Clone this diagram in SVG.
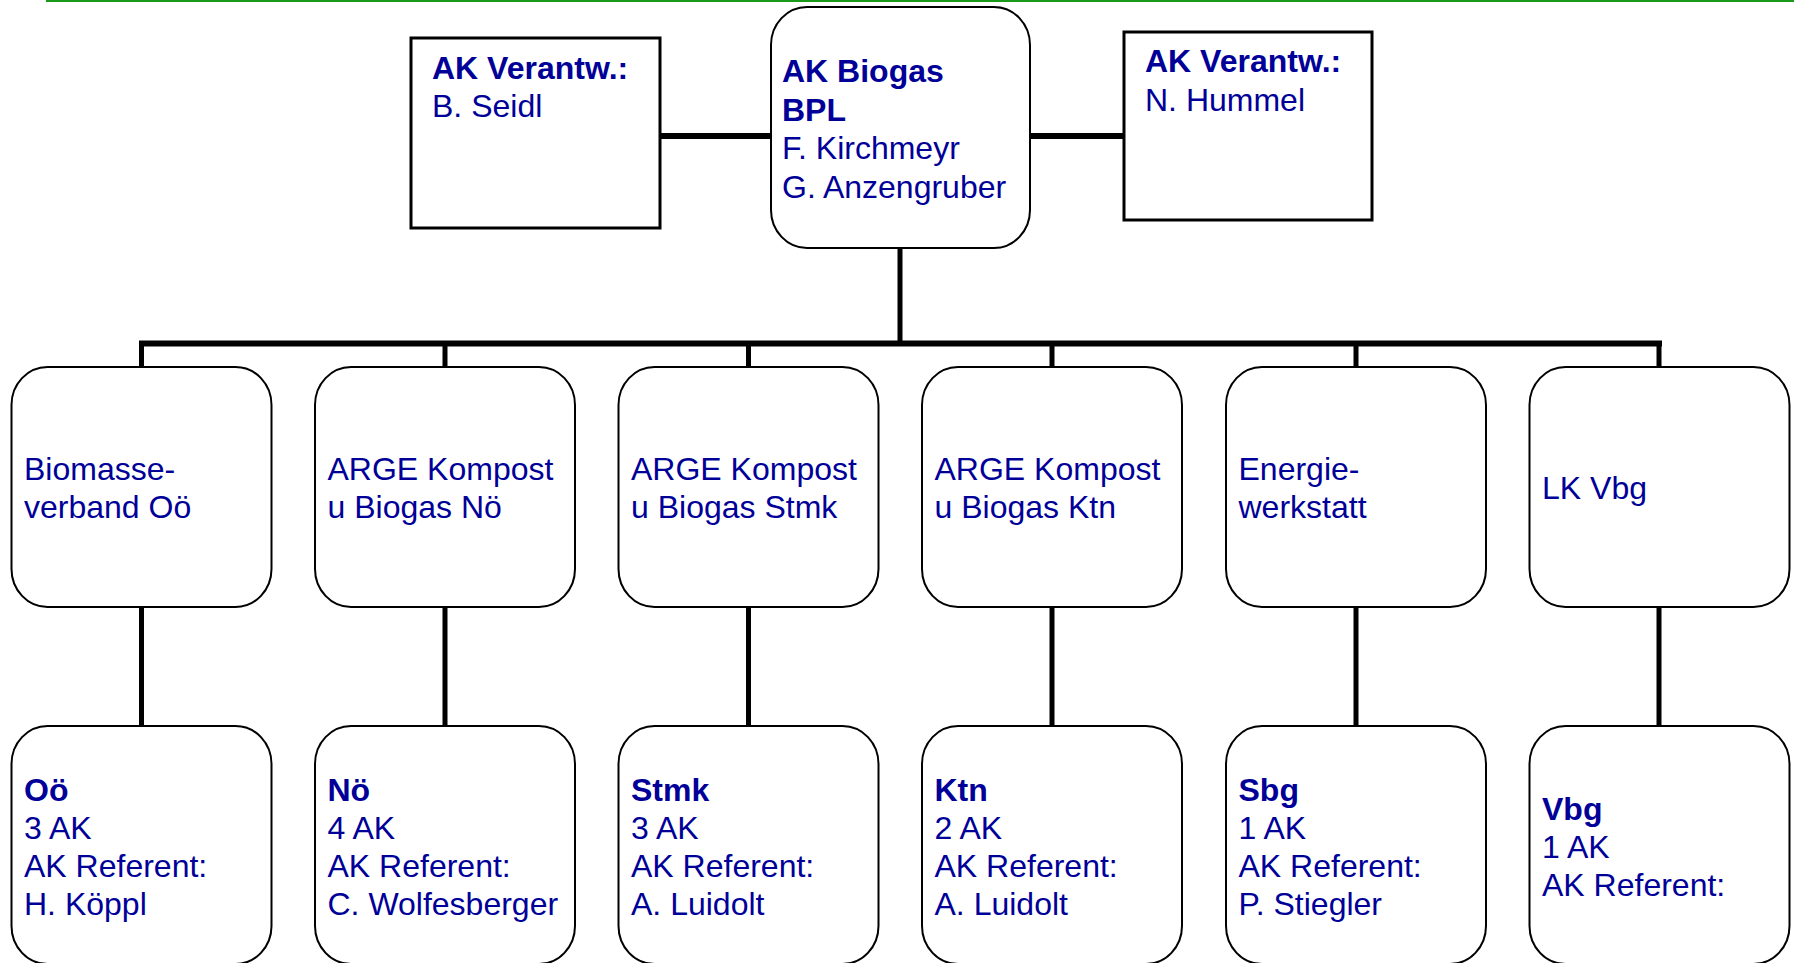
<svg xmlns="http://www.w3.org/2000/svg" width="1794" height="963" viewBox="0 0 1794 963">
<style>
  .box { fill: #ffffff; stroke: #000000; stroke-width: 2; }
  .sq { fill: #ffffff; stroke: #000000; stroke-width: 3; }
  .conn { fill: none; stroke: #000000; stroke-width: 5; }
  .thick { fill: none; stroke: #000000; stroke-width: 6; }
  text { font-family: "Liberation Sans", Arial, sans-serif; font-size: 32px; fill: #000099; }
  .b { font-weight: bold; }
</style>
<rect x="0" y="0" width="1794" height="963" fill="#ffffff"/>
<line x1="46" y1="1" x2="1794" y2="1" stroke="#1a9a1a" stroke-width="2"/>

<g id="connectors">
  <line class="thick" x1="660" y1="136" x2="771" y2="136"/>
  <line class="thick" x1="1030" y1="136" x2="1124" y2="136"/>
  <line class="conn" x1="900" y1="248" x2="900" y2="344"/>
  <path class="thick" d="M139 343.5 H1662"/>
  <path class="conn" d="M141.5 343 V367 M445 343 V367 M748.5 343 V367 M1052 343 V367 M1356 343 V367 M1659 343 V367"/>
  <path class="conn" d="M141.5 607 V726 M445 607 V726 M748.5 607 V726 M1052 607 V726 M1356 607 V726 M1659 607 V726"/>
</g>

<g id="verantw-left">
  <rect class="sq" x="411" y="38" width="249" height="190"/>
  <text x="432" y="79" class="b">AK Verantw.:</text>
  <text x="432" y="117">B. Seidl</text>
</g>

<g id="ak-biogas">
  <rect class="box" x="771" y="7" width="259" height="241" rx="36" ry="38"/>
  <text x="782" y="82" class="b">AK Biogas</text>
  <text x="782" y="120.5" class="b">BPL</text>
  <text x="782" y="159">F. Kirchmeyr</text>
  <text x="782" y="197.5">G. Anzengruber</text>
</g>

<g id="verantw-right">
  <rect class="sq" x="1124" y="32" width="248" height="188"/>
  <text x="1145" y="72" class="b">AK Verantw.:</text>
  <text x="1145" y="111">N. Hummel</text>
</g>

<g id="mid-1">
  <rect class="box" x="11.5" y="367" width="260" height="240" rx="36" ry="38"/>
  <text x="24" y="480">Biomasse-</text>
  <text x="24" y="518">verband Oö</text>
</g>
<g id="mid-2">
  <rect class="box" x="315" y="367" width="260" height="240" rx="36" ry="38"/>
  <text x="327.5" y="480">ARGE Kompost</text>
  <text x="327.5" y="518">u Biogas Nö</text>
</g>
<g id="mid-3">
  <rect class="box" x="618.5" y="367" width="260" height="240" rx="36" ry="38"/>
  <text x="631" y="480">ARGE Kompost</text>
  <text x="631" y="518">u Biogas Stmk</text>
</g>
<g id="mid-4">
  <rect class="box" x="922" y="367" width="260" height="240" rx="36" ry="38"/>
  <text x="934.5" y="480">ARGE Kompost</text>
  <text x="934.5" y="518">u Biogas Ktn</text>
</g>
<g id="mid-5">
  <rect class="box" x="1226" y="367" width="260" height="240" rx="36" ry="38"/>
  <text x="1238.5" y="480">Energie-</text>
  <text x="1238.5" y="518">werkstatt</text>
</g>
<g id="mid-6">
  <rect class="box" x="1529.5" y="367" width="260" height="240" rx="36" ry="38"/>
  <text x="1542" y="499">LK Vbg</text>
</g>

<g id="bot-1">
  <rect class="box" x="11.5" y="726" width="260" height="238" rx="36" ry="38"/>
  <text x="24" y="801" class="b">Oö</text>
  <text x="24" y="839">3 AK</text>
  <text x="24" y="877">AK Referent:</text>
  <text x="24" y="915">H. Köppl</text>
</g>
<g id="bot-2">
  <rect class="box" x="315" y="726" width="260" height="238" rx="36" ry="38"/>
  <text x="327.5" y="801" class="b">Nö</text>
  <text x="327.5" y="839">4 AK</text>
  <text x="327.5" y="877">AK Referent:</text>
  <text x="327.5" y="915">C. Wolfesberger</text>
</g>
<g id="bot-3">
  <rect class="box" x="618.5" y="726" width="260" height="238" rx="36" ry="38"/>
  <text x="631" y="801" class="b">Stmk</text>
  <text x="631" y="839">3 AK</text>
  <text x="631" y="877">AK Referent:</text>
  <text x="631" y="915">A. Luidolt</text>
</g>
<g id="bot-4">
  <rect class="box" x="922" y="726" width="260" height="238" rx="36" ry="38"/>
  <text x="934.5" y="801" class="b">Ktn</text>
  <text x="934.5" y="839">2 AK</text>
  <text x="934.5" y="877">AK Referent:</text>
  <text x="934.5" y="915">A. Luidolt</text>
</g>
<g id="bot-5">
  <rect class="box" x="1226" y="726" width="260" height="238" rx="36" ry="38"/>
  <text x="1238.5" y="801" class="b">Sbg</text>
  <text x="1238.5" y="839">1 AK</text>
  <text x="1238.5" y="877">AK Referent:</text>
  <text x="1238.5" y="915">P. Stiegler</text>
</g>
<g id="bot-6">
  <rect class="box" x="1529.5" y="726" width="260" height="238" rx="36" ry="38"/>
  <text x="1542" y="820" class="b">Vbg</text>
  <text x="1542" y="858">1 AK</text>
  <text x="1542" y="896">AK Referent:</text>
</g>
</svg>
